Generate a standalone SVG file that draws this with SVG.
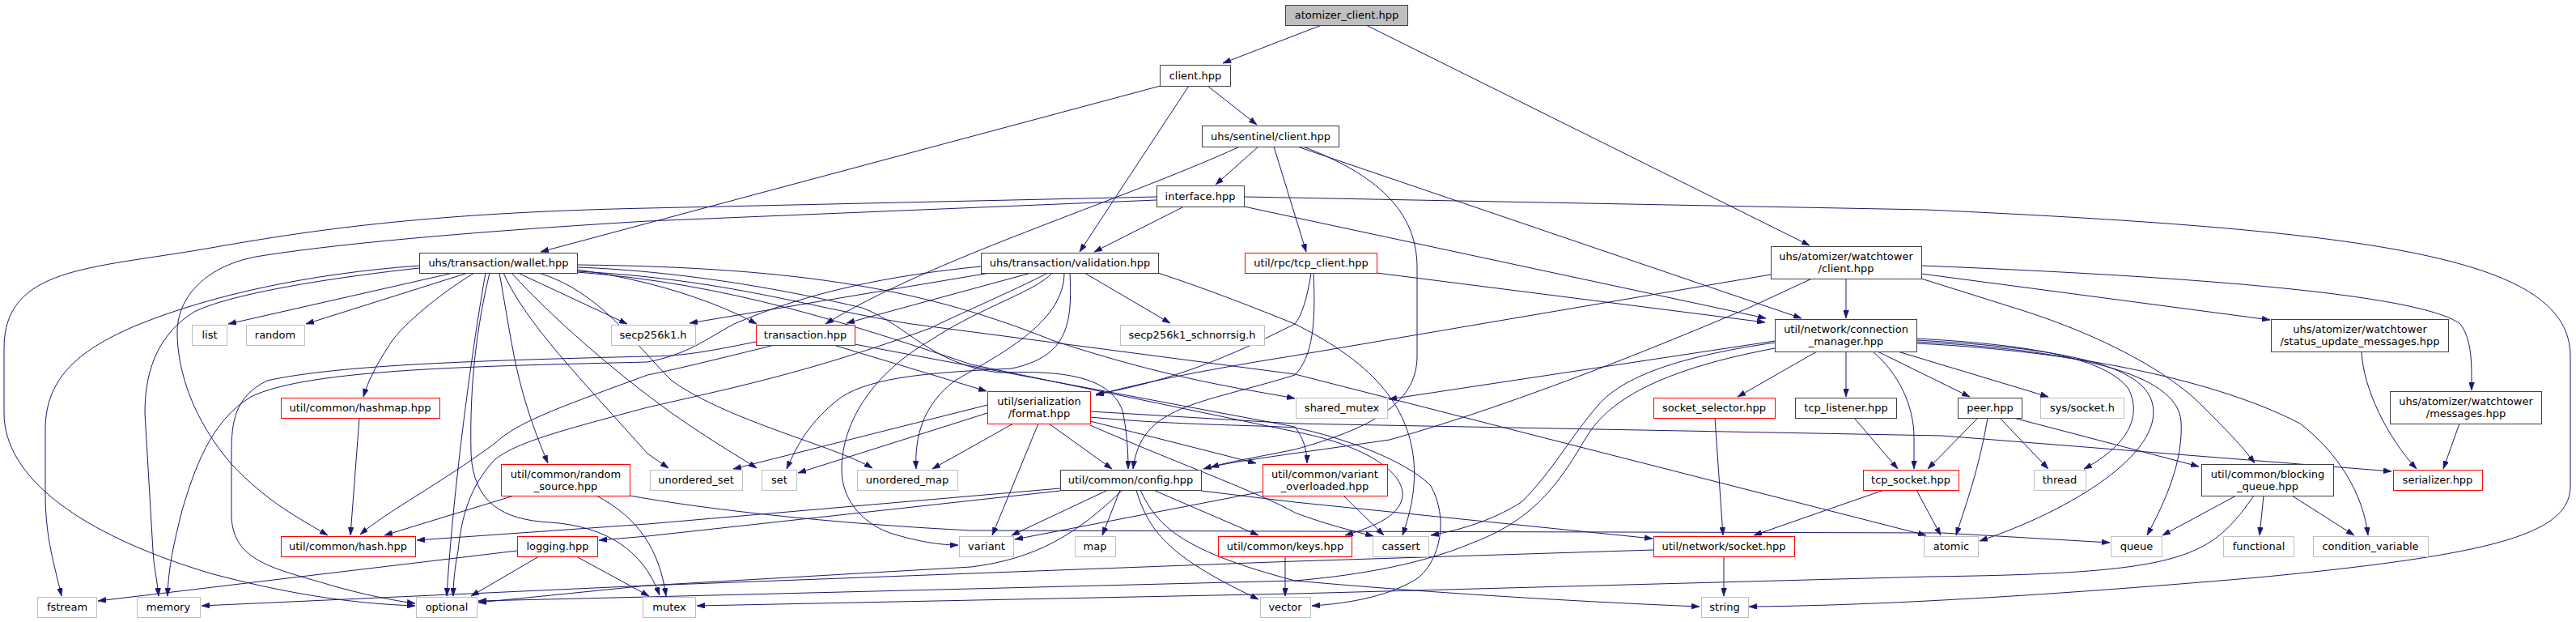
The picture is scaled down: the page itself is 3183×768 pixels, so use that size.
<svg xmlns="http://www.w3.org/2000/svg" width="3183" height="768" viewBox="0 0 3183 768">
<style>
text{font-family:"DejaVu Sans","Liberation Sans",sans-serif;font-size:13px;text-anchor:middle;fill:#000}
.n rect{fill:#fff;stroke:#404040;stroke-width:1}
.r rect{fill:#fff;stroke:#ff0000;stroke-width:1}
.g rect{fill:#fff;stroke:#bfbfbf;stroke-width:1}
.root rect{fill:#bfbfbf;stroke:#404040;stroke-width:1}
#edges path{fill:none;stroke:#191970;stroke-width:1;marker-end:url(#ah)}
</style>
<defs>
<marker id="ah" viewBox="0 0 10 7" refX="10" refY="3.5" markerWidth="10" markerHeight="7" markerUnits="userSpaceOnUse" orient="auto">
<polygon points="0,0 10,3.5 0,7" fill="#191970" stroke="#191970" stroke-width="0.5"/>
</marker>
</defs>
<rect x="0" y="0" width="3183" height="768" fill="#fff"/>
<g id="edges">
<path d="M1633,31 L1511,78"/>
<path d="M1688,31 L2236,303"/>
<path d="M1492,106 L1553,154"/>
<path d="M1469,106 L1334,311"/>
<path d="M1434,106 L668,311"/>
<path d="M1555,181 L1502,228"/>
<path d="M1574,181 L1614,311"/>
<path d="M1603,181 L2226,393"/>
<path d="M1610,181 C1700,215 1751,260 1751,330 L1751,440 C1751,500 1690,530 1600,555 C1550,565 1510,572 1487,579"/>
<path d="M1532,181 C1380,250 1150,320 1020,400"/>
<path d="M1463,255 L1352,311"/>
<path d="M1537,255 L2182,393"/>
<path d="M1537,243 L2380,259 C2950,285 3176,320 3176,440 L3176,600 C3176,660 3080,685 2790,713 C2500,738 2300,748 2161,749"/>
<path d="M1429,243 L800,257 C520,263 380,285 255,307 C110,332 5,330 5,430 L5,510 C5,590 100,660 260,708 C380,740 460,746 513,748"/>
<path d="M1429,247 L800,273 C600,285 420,300 316,317 C250,330 219,370 219,410 C219,460 240,520 286,573 C330,620 370,640 405,661"/>
<path d="M518,328 C380,338 260,365 173,400 C100,430 56,465 56,530 L56,610 C56,665 68,700 76,736"/>
<path d="M518,331 C390,345 280,365 240,385 C200,410 179,450 179,510 L189,680 C190,700 194,715 196,736"/>
<path d="M560,337 L282,400"/>
<path d="M578,337 L378,400"/>
<path d="M640,337 L775,400"/>
<path d="M586,337 C540,365 500,400 485,420 C465,450 455,470 449,490"/>
<path d="M617,337 C625,380 632,430 642,470 C655,520 668,550 677,572"/>
<path d="M605,337 C590,400 580,470 582,560 C585,620 620,642 680,645 C750,650 795,680 815,735"/>
<path d="M600,337 C585,420 560,600 552,736"/>
<path d="M622,337 C650,400 720,470 800,560 L826,578"/>
<path d="M632,337 C680,390 760,460 830,510 C880,545 915,565 935,578"/>
<path d="M666,337 C740,360 780,420 830,470 C900,520 1030,550 1078,578"/>
<path d="M713,333 C800,345 880,370 935,400"/>
<path d="M713,330 C850,335 980,360 1065,380 C1120,400 1150,450 1234,460 C1300,458 1370,460 1387,507 C1392,530 1394,555 1394,579"/>
<path d="M713,327 C1000,330 1150,360 1300,420 C1450,470 1550,482 1600,492"/>
<path d="M713,335 C900,345 1000,380 1126,400 L1600,462 L2380,661"/>
<path d="M713,336 C900,350 1050,400 1200,450 L1600,533 C1680,548 1733,580 1733,610 C1733,635 1700,650 1662,661"/>
<path d="M953,427 C900,440 840,455 800,463 C700,500 640,520 612,547 C540,600 480,630 445,660"/>
<path d="M934,422 C870,435 840,440 800,440 C600,445 420,450 330,470 C290,490 286,520 286,560 L286,640 C290,690 330,700 400,720 C450,735 490,742 513,745"/>
<path d="M1030,426 L1219,483"/>
<path d="M1056,425 L1600,527 C1610,540 1615,555 1615,572"/>
<path d="M1223,337 L852,399"/>
<path d="M1274,337 L1046,399"/>
<path d="M1340,337 L1446,399"/>
<path d="M1431,337 C1500,360 1550,380 1600,400 C1680,440 1740,490 1747,570 C1750,610 1740,640 1733,661"/>
<path d="M1212,329 C1100,340 1000,360 907,400 C870,420 851,437 800,447 C600,452 380,455 310,490 C260,520 240,580 225,630 C215,670 208,700 207,736"/>
<path d="M1295,337 C1250,360 1180,390 1150,405 C1000,460 900,480 800,503 C700,530 640,545 612,567 C580,600 570,640 566,680 C562,700 560,720 560,736"/>
<path d="M1300,337 C1280,360 1210,380 1150,420 C1080,460 1040,520 1040,580 C1040,620 1070,650 1106,660 C1140,670 1165,673 1184,673"/>
<path d="M1315,337 C1315,400 1230,440 1180,470 C1140,500 1130,540 1132,579"/>
<path d="M1322,337 C1325,400 1320,440 1250,455 C1150,460 1080,465 1040,490 C1000,520 985,550 972,579"/>
<path d="M1701,337 L2181,398"/>
<path d="M1620,337 C1615,370 1608,390 1600,400 C1520,440 1450,470 1354,487"/>
<path d="M1623,337 C1626,400 1622,440 1600,463 C1480,500 1410,500 1400,579"/>
<path d="M2281,344 L2281,393"/>
<path d="M2188,339 L1600,439 C1500,455 1420,470 1354,488"/>
<path d="M2239,344 L2161,380 C1950,470 1800,520 1717,543 C1600,560 1520,570 1496,577"/>
<path d="M2374,338 L2805,395"/>
<path d="M2374,328 C2800,345 3000,370 3040,400 C3055,420 3054,450 3054,482"/>
<path d="M2374,344 L2495,382 C2600,415 2680,460 2720,500 C2750,530 2770,550 2786,572"/>
<path d="M2245,434 L2147,490"/>
<path d="M2281,434 L2281,490"/>
<path d="M2314,434 C2345,460 2365,500 2365,540 L2365,579"/>
<path d="M2320,434 L2434,490"/>
<path d="M2345,434 L2531,490"/>
<path d="M2193,421 L1716,493"/>
<path d="M2368,418 C2500,425 2600,440 2630,480 C2650,520 2620,555 2575,579"/>
<path d="M2368,420 C2550,430 2650,450 2660,500 C2672,560 2560,630 2446,668"/>
<path d="M2368,422 C2560,432 2690,460 2695,520 C2698,570 2675,620 2653,661"/>
<path d="M2368,424 C2600,435 2760,480 2842,523 C2890,560 2920,610 2926,661"/>
<path d="M2193,423 C2090,438 2010,460 1975,500 C1940,540 1920,580 1880,620 C1840,645 1800,655 1768,661"/>
<path d="M2193,430 C2060,455 1990,490 1960,540 C1930,590 1900,640 1820,670 C1750,700 1660,712 1600,717 L800,737 L591,742"/>
<path d="M2444,516 L2382,579"/>
<path d="M2456,516 C2445,580 2430,620 2417,661"/>
<path d="M2471,516 L2531,579"/>
<path d="M2488,516 L2717,576"/>
<path d="M2291,516 L2345,579"/>
<path d="M2119,516 L2129,661"/>
<path d="M2328,605 L2167,661"/>
<path d="M2368,605 L2398,661"/>
<path d="M2130,687 L2130,736"/>
<path d="M2043,679 L1600,693 L800,723 L249,748"/>
<path d="M2763,612 L2672,661"/>
<path d="M2797,612 L2792,661"/>
<path d="M2832,612 L2909,661"/>
<path d="M2785,612 C2730,690 2700,708 2383,712 L1600,733 L861,748"/>
<path d="M2918,434 C2920,480 2950,540 2986,579"/>
<path d="M3039,523 L3019,579"/>
<path d="M1220,500 L906,579"/>
<path d="M1220,510 L986,584"/>
<path d="M1252,523 L1152,579"/>
<path d="M1283,523 L1226,661"/>
<path d="M1296,523 L1374,579"/>
<path d="M1347,508 L1600,523 L2400,538 L2955,582"/>
<path d="M1347,520 L1552,572"/>
<path d="M1347,515 C1450,525 1560,525 1600,528 C1660,540 1740,570 1768,600 C1790,640 1780,690 1753,713 C1720,735 1670,745 1621,748"/>
<path d="M1347,525 C1450,570 1560,610 1600,633 C1640,648 1670,655 1697,662"/>
<path d="M1310,603 L800,647 L515,667"/>
<path d="M1310,606 L800,662 L740,667"/>
<path d="M1369,605 L1250,661"/>
<path d="M1384,605 L1362,661"/>
<path d="M1425,605 L1555,661"/>
<path d="M1404,605 C1420,660 1450,690 1555,740"/>
<path d="M1409,605 C1430,650 1460,680 1600,717 C1800,735 2000,745 2100,749"/>
<path d="M1387,605 C1330,660 1280,690 1200,700 L800,723 L591,744"/>
<path d="M1484,606 L1600,620 L2042,665"/>
<path d="M1560,607 L1254,666"/>
<path d="M1660,612 L1710,661"/>
<path d="M1588,687 L1588,736"/>
<path d="M444,516 L433,661"/>
<path d="M635,612 L475,661"/>
<path d="M778,612 C850,625 1000,645 1200,655 L2400,658 L2607,670"/>
<path d="M737,612 C790,640 815,680 823,736"/>
<path d="M639,680 L121,742"/>
<path d="M666,687 L582,736"/>
<path d="M712,687 L802,736"/>
</g>
<g id="root" class="root"><rect x="1588.5" y="6.5" width="151" height="25"/><text x="1664" y="23">atomizer_client.hpp</text></g>
<g id="client" class="n"><rect x="1433.5" y="80.5" width="87" height="26"/><text x="1477" y="98">client.hpp</text></g>
<g id="sentinel_client" class="n"><rect x="1485.5" y="155.5" width="169" height="26"/><text x="1570" y="173">uhs/sentinel/client.hpp</text></g>
<g id="interface" class="n"><rect x="1429.5" y="229.5" width="108" height="26"/><text x="1483" y="247">interface.hpp</text></g>
<g id="wallet" class="n"><rect x="518.5" y="312.5" width="195" height="25"/><text x="616" y="329">uhs/transaction/wallet.hpp</text></g>
<g id="validation" class="n"><rect x="1212.5" y="312.5" width="219" height="25"/><text x="1322" y="329">uhs/transaction/validation.hpp</text></g>
<g id="tcp_client" class="r"><rect x="1538.5" y="312.5" width="163" height="25"/><text x="1620" y="329">util/rpc/tcp_client.hpp</text></g>
<g id="wt_client" class="n"><rect x="2188.5" y="304.5" width="186" height="40"/><text x="2281" y="321">uhs/atomizer/watchtower</text><text x="2281" y="336">/client.hpp</text></g>
<g id="list" class="g"><rect x="237.5" y="401.5" width="43" height="25"/><text x="259" y="418">list</text></g>
<g id="random" class="g"><rect x="304.5" y="401.5" width="72" height="25"/><text x="340" y="418">random</text></g>
<g id="secp256k1" class="g"><rect x="755.5" y="401.5" width="104" height="25"/><text x="807" y="418">secp256k1.h</text></g>
<g id="transaction" class="r"><rect x="934.5" y="401.5" width="122" height="25"/><text x="995" y="418">transaction.hpp</text></g>
<g id="schnorrsig" class="g"><rect x="1384.5" y="401.5" width="178" height="25"/><text x="1473" y="418">secp256k1_schnorrsig.h</text></g>
<g id="connection_manager" class="n"><rect x="2193.5" y="394.5" width="175" height="40"/><text x="2281" y="411">util/network/connection</text><text x="2281" y="426">_manager.hpp</text></g>
<g id="status_update" class="n"><rect x="2806.5" y="394.5" width="219" height="40"/><text x="2916" y="411">uhs/atomizer/watchtower</text><text x="2916" y="426">/status_update_messages.hpp</text></g>
<g id="hashmap" class="r"><rect x="347.5" y="491.5" width="196" height="25"/><text x="445" y="508">util/common/hashmap.hpp</text></g>
<g id="shared_mutex" class="g"><rect x="1601.5" y="491.5" width="113" height="25"/><text x="1658" y="508">shared_mutex</text></g>
<g id="socket_selector" class="r"><rect x="2043.5" y="491.5" width="150" height="25"/><text x="2118" y="508">socket_selector.hpp</text></g>
<g id="tcp_listener" class="n"><rect x="2218.5" y="491.5" width="125" height="25"/><text x="2281" y="508">tcp_listener.hpp</text></g>
<g id="peer" class="n"><rect x="2419.5" y="491.5" width="79" height="25"/><text x="2459" y="508">peer.hpp</text></g>
<g id="sys_socket" class="g"><rect x="2521.5" y="491.5" width="103" height="25"/><text x="2573" y="508">sys/socket.h</text></g>
<g id="format" class="r"><rect x="1220.5" y="483.5" width="127" height="40"/><text x="1284" y="500">util/serialization</text><text x="1284" y="515">/format.hpp</text></g>
<g id="messages" class="n"><rect x="2953.5" y="483.5" width="187" height="40"/><text x="3047" y="500">uhs/atomizer/watchtower</text><text x="3047" y="515">/messages.hpp</text></g>
<g id="unordered_set" class="g"><rect x="803.5" y="580.5" width="114" height="25"/><text x="860" y="597">unordered_set</text></g>
<g id="set" class="g"><rect x="941.5" y="580.5" width="43" height="25"/><text x="963" y="597">set</text></g>
<g id="unordered_map" class="g"><rect x="1059.5" y="580.5" width="124" height="25"/><text x="1121" y="597">unordered_map</text></g>
<g id="config" class="n"><rect x="1310.5" y="580.5" width="174" height="25"/><text x="1397" y="597">util/common/config.hpp</text></g>
<g id="tcp_socket" class="r"><rect x="2302.5" y="580.5" width="118" height="25"/><text x="2361" y="597">tcp_socket.hpp</text></g>
<g id="thread" class="g"><rect x="2513.5" y="580.5" width="64" height="25"/><text x="2545" y="597">thread</text></g>
<g id="serializer" class="r"><rect x="2957.5" y="580.5" width="110" height="25"/><text x="3012" y="597">serializer.hpp</text></g>
<g id="random_source" class="r"><rect x="619.5" y="573.5" width="159" height="39"/><text x="699" y="590">util/common/random</text><text x="699" y="605">_source.hpp</text></g>
<g id="variant_overloaded" class="r"><rect x="1560.5" y="573.5" width="154" height="39"/><text x="1637" y="590">util/common/variant</text><text x="1637" y="605">_overloaded.hpp</text></g>
<g id="blocking_queue" class="n"><rect x="2720.5" y="573.5" width="163" height="39"/><text x="2802" y="590">util/common/blocking</text><text x="2802" y="605">_queue.hpp</text></g>
<g id="hash" class="r"><rect x="347.5" y="662.5" width="166" height="25"/><text x="430" y="679">util/common/hash.hpp</text></g>
<g id="logging" class="r"><rect x="639.5" y="662.5" width="99" height="25"/><text x="689" y="679">logging.hpp</text></g>
<g id="variant" class="g"><rect x="1185.5" y="662.5" width="67" height="25"/><text x="1219" y="679">variant</text></g>
<g id="map" class="g"><rect x="1328.5" y="662.5" width="50" height="25"/><text x="1353" y="679">map</text></g>
<g id="keys" class="r"><rect x="1505.5" y="662.5" width="165" height="25"/><text x="1588" y="679">util/common/keys.hpp</text></g>
<g id="cassert" class="g"><rect x="1696.5" y="662.5" width="69" height="25"/><text x="1731" y="679">cassert</text></g>
<g id="socket" class="r"><rect x="2043.5" y="662.5" width="174" height="25"/><text x="2130" y="679">util/network/socket.hpp</text></g>
<g id="atomic" class="g"><rect x="2377.5" y="662.5" width="67" height="25"/><text x="2411" y="679">atomic</text></g>
<g id="queue" class="g"><rect x="2608.5" y="662.5" width="63" height="25"/><text x="2640" y="679">queue</text></g>
<g id="functional" class="g"><rect x="2747.5" y="662.5" width="87" height="25"/><text x="2791" y="679">functional</text></g>
<g id="condition_variable" class="g"><rect x="2858.5" y="662.5" width="142" height="25"/><text x="2929" y="679">condition_variable</text></g>
<g id="fstream" class="g"><rect x="46.5" y="737.5" width="73" height="25"/><text x="83" y="754">fstream</text></g>
<g id="memory" class="g"><rect x="169.5" y="737.5" width="78" height="25"/><text x="208" y="754">memory</text></g>
<g id="optional" class="g"><rect x="514.5" y="737.5" width="75" height="25"/><text x="552" y="754">optional</text></g>
<g id="mutex" class="g"><rect x="794.5" y="737.5" width="65" height="25"/><text x="827" y="754">mutex</text></g>
<g id="vector" class="g"><rect x="1557.5" y="737.5" width="62" height="25"/><text x="1588" y="754">vector</text></g>
<g id="string" class="g"><rect x="2102.5" y="737.5" width="58" height="25"/><text x="2131" y="754">string</text></g>
</svg>
